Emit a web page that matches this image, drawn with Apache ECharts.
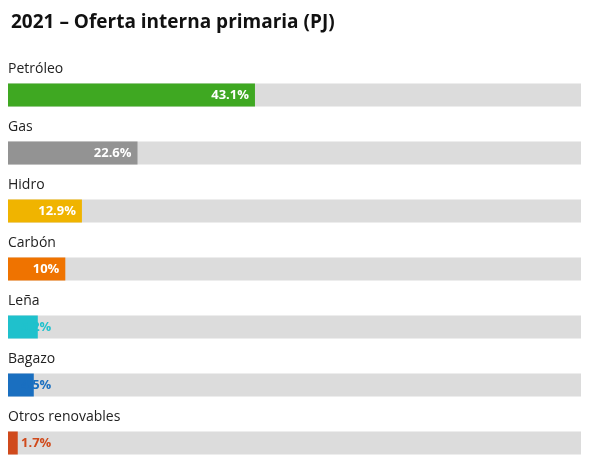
<!DOCTYPE html>
<html><head><meta charset="utf-8">
<script src="https://cdn.jsdelivr.net/npm/echarts@6/dist/echarts.min.js"></script>
<style>html,body{margin:0;padding:0;background:#fff}#c{width:595px;height:472px}</style>
</head><body><div id="c"></div>
<script>
const categories = ['Petróleo','Gas','Hidro','Carbón','Leña','Bagazo','Otros renovables'];
const values = [43.1, 22.6, 12.9, 10, 5.2, 4.5, 1.7];
const labels = ['43.1%','22.6%','12.9%','10%','5.2%','4.5%','1.7%'];
const colors = ['#3fa822','#939393','#f0b400','#ef7300','#1fc1cc','#1a6fc0','#d04a1c'];

const chart = echarts.init(document.getElementById('c'));
chart.setOption({
  animation:false,
  title:{text:'2021 – Oferta interna primaria (PJ)',left:6,top:8,textStyle:{fontFamily:'Open Sans',fontWeight:'bold',fontSize:19,color:'#111'}},
  grid:{left:8,right:14,top:66,height:407},
  xAxis:{type:'value',min:0,max:100,show:false},
  yAxis:{type:'category',data:categories,inverse:true,show:false},
  series:[
    {type:'bar',barWidth:23,barGap:'-100%',silent:true,
     data:categories.map(()=>100),itemStyle:{color:'#dcdcdc'},
     label:{show:true,position:[0,-21],formatter:p=>categories[p.dataIndex],
       fontFamily:'Open Sans',fontSize:14,color:'#222'}},
    {type:'bar',barWidth:23,
     data:values.map((v,i)=>({value:v,itemStyle:{color:colors[i]},
       label: v>=10 ? {position:'insideRight',color:'#fff',distance:6}
                    : {position:'insideLeft',offset:[8,0],color:colors[i]}})),
     label:{show:true,formatter:p=>labels[p.dataIndex],fontFamily:'Open Sans',fontWeight:'bold',fontSize:13}}
  ]
});
</script></body></html>
